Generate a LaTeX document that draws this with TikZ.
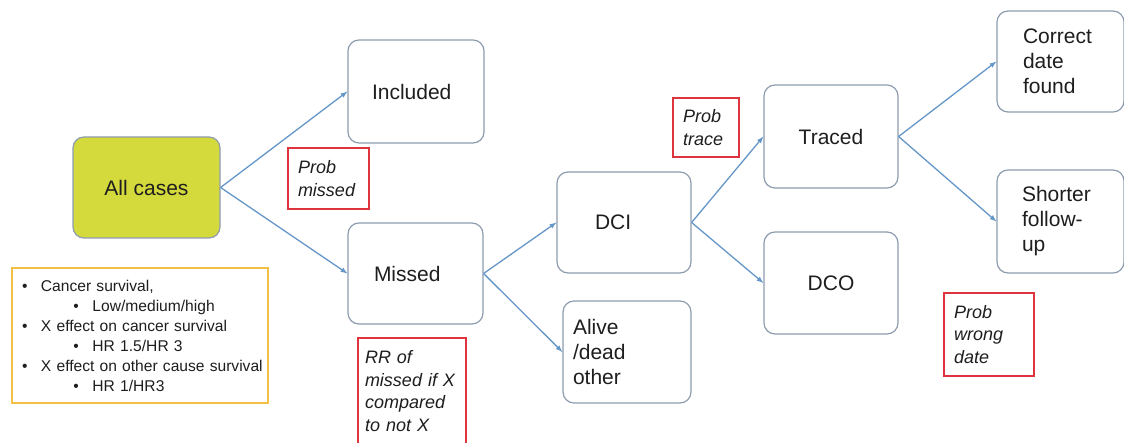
\documentclass[tikz,border=0pt]{standalone}
\usepackage{fontspec}
\setmainfont{Liberation Sans}
\usepackage{tikz}

\definecolor{bordecaja}{RGB}{142,156,176}
\definecolor{amarillo}{RGB}{212,217,60}
\definecolor{rojonota}{RGB}{222,52,62}
\definecolor{oro}{RGB}{242,192,66}
\definecolor{azulflecha}{RGB}{100,150,200}
\definecolor{texto}{RGB}{30,30,30}

\newcommand{\vineta}[1]{\mbox{\hspace*{6pt}\makebox[19pt][l]{\textbullet}#1}}
\newcommand{\subvineta}[1]{\mbox{\hspace*{57.5pt}\makebox[19pt][l]{\textbullet}#1}}

\tikzset{
  caja/.style={draw=bordecaja, line width=1.2pt, rounded corners=11pt, fill=white,
    text=texto, font=\fontsize{21}{25}\selectfont, inner sep=0pt, minimum height=102pt},
  nota/.style={draw=rojonota, line width=2.6pt, fill=white, text=texto,
    font=\fontsize{18}{22.5}\selectfont\itshape, align=left, inner ysep=0pt},
  leyenda/.style={draw=oro, line width=2.4pt, fill=white, text=texto,
    font=\fontsize{15.6}{20}\selectfont, align=left, inner ysep=0pt},
  flecha/.style={draw=azulflecha, line width=1.3pt, -latex},
}

\begin{document}
\begin{tikzpicture}[x=1pt,y=-1pt]
\useasboundingbox (0,0) rectangle (1124,443);

% Cajas del arbol
\node[caja, fill=amarillo, minimum width=147pt, minimum height=101pt] (todos) at (146.5,187.5) {All cases};
\node[caja, text width=88pt, inner xsep=24pt, align=left, minimum height=103pt] (incluidos) at (416,91.5) {Included};
\node[caja, text width=83pt, inner xsep=26pt, align=left, minimum height=101pt] (perdidos) at (415.5,273.5) {Missed};
\node[caja, text width=58pt, inner xsep=38pt, align=left, minimum height=101pt] (dci) at (624,222.5) {DCI};
\node[caja, text width=108pt, inner xsep=10pt, align=left] (vivos) at (627,352) {Alive\\/dead\\other};
\node[caja, minimum width=134pt, minimum height=103pt] (trazados) at (831,136.5) {Traced};
\node[caja, minimum width=134pt] (dco) at (831,283) {DCO};
\node[caja, text width=75pt, inner xsep=26pt, align=left, minimum height=101pt] (correcta) at (1060.5,61.5) {Correct\\date\\found};
\node[caja, text width=77pt, inner xsep=25pt, align=left, minimum height=103pt] (acortado) at (1060.5,221.5) {Shorter\\follow-\\up};

% Flechas
\draw[flecha] (todos.east) -- (incluidos.west);
\draw[flecha] (todos.east) -- (perdidos.west);
\draw[flecha] (perdidos.east) -- (dci.west);
\draw[flecha] (perdidos.east) -- (vivos.west);
\draw[flecha] (dci.east) -- (trazados.west);
\draw[flecha] (dci.east) -- (dco.west);
\draw[flecha] (trazados.east) -- (correcta.west);
\draw[flecha] (trazados.east) -- (acortado.west);

% Notas en rojo
\node[nota, text width=61pt, inner xsep=10pt, minimum height=61pt] (pperdido) at (328.5,178.5) {Prob\\missed};
\node[nota, text width=46pt, inner xsep=10pt, minimum height=59pt] (ptraza) at (706,127.5) {Prob\\trace};
\node[nota, text width=70pt, inner xsep=10pt, minimum height=83pt] (pfecha) at (989,334.5) {Prob\\wrong\\date};
\node[nota, text width=94pt, inner xsep=7pt, minimum height=106pt] (rr) at (412,391) {RR of\\missed if X\\compared\\to not X};

% Leyenda
\node[leyenda, text width=248pt, inner xsep=4pt, minimum height=135pt] (parametros) at (140,335.5)
  {\vineta{Cancer survival,}\\
   \subvineta{Low/medium/high}\\
   \vineta{X effect on cancer survival}\\
   \subvineta{HR 1.5/HR 3}\\
   \vineta{X effect on other cause survival}\\
   \subvineta{HR 1/HR3}};
\end{tikzpicture}
\end{document}
